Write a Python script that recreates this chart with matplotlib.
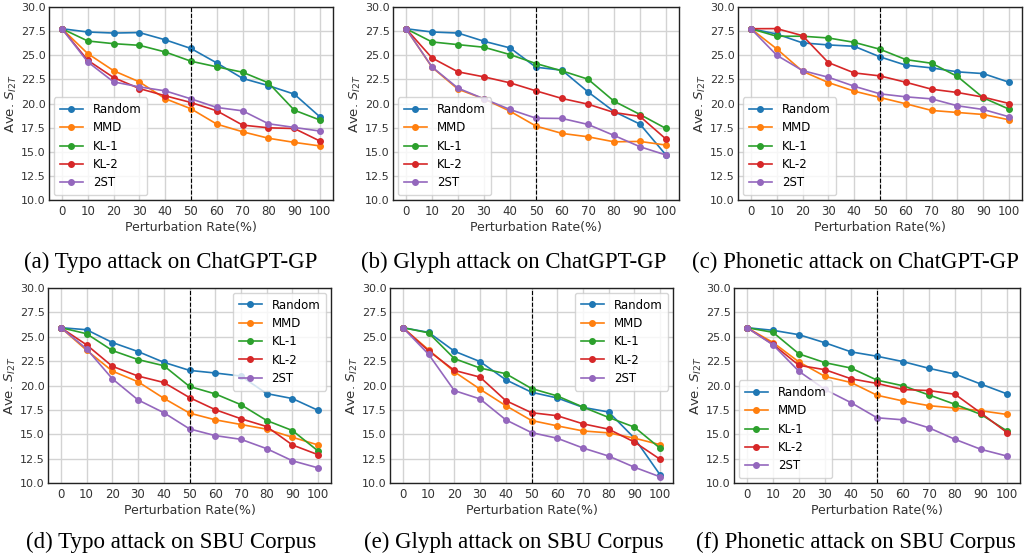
import numpy as np
import matplotlib
matplotlib.use("Agg")
import matplotlib.pyplot as plt

rates = [0, 10, 20, 30, 40, 50, 60, 70, 80, 90, 100]
methods = ["Random", "MMD", "KL-1", "KL-2", "2ST"]
colors = ["#1f77b4", "#ff7f0e", "#2ca02c", "#d62728", "#9467bd"]

# (a) Typo attack on ChatGPT-GP
typo_gp = {
    "Random": [27.75, 27.41, 27.3, 27.35, 26.6, 25.7, 24.2, 22.6, 21.85, 20.97, 18.6],
    "MMD":    [27.75, 25.17, 23.4, 22.24, 20.5, 19.45, 17.86, 17.07, 16.4, 15.97, 15.6],
    "KL-1":   [27.75, 26.48, 26.2, 26.03, 25.34, 24.38, 23.8, 23.24, 22.14, 19.31, 18.28],
    "KL-2":   [27.75, 24.48, 22.69, 21.55, 20.8, 20.1, 19.24, 17.76, 17.48, 17.41, 16.1],
    "2ST":    [27.75, 24.31, 22.24, 21.72, 21.31, 20.48, 19.59, 19.24, 17.9, 17.52, 17.14],
}
# (b) Glyph attack on ChatGPT-GP
glyph_gp = {
    "Random": [27.75, 27.41, 27.3, 26.45, 25.76, 23.76, 23.45, 21.2, 19.17, 17.86, 14.66],
    "MMD":    [27.75, 23.76, 21.48, 20.48, 19.2, 17.66, 16.9, 16.55, 16.03, 16.07, 15.69],
    "KL-1":   [27.75, 26.38, 26.1, 25.83, 25.07, 24.14, 23.38, 22.52, 20.24, 18.86, 17.41],
    "KL-2":   [27.75, 24.72, 23.28, 22.76, 22.14, 21.31, 20.52, 19.93, 19.07, 18.66, 16.31],
    "2ST":    [27.75, 23.79, 21.59, 20.48, 19.38, 18.48, 18.45, 17.83, 16.69, 15.52, 14.66],
}
# (c) Phonetic attack on ChatGPT-GP
phon_gp = {
    "Random": [27.75, 27.2, 26.28, 26.07, 25.93, 24.83, 23.97, 23.69, 23.28, 23.1, 22.2],
    "MMD":    [27.75, 25.66, 23.34, 22.17, 21.28, 20.62, 19.97, 19.28, 19.07, 18.86, 18.31],
    "KL-1":   [27.75, 26.97, 26.97, 26.79, 26.34, 25.62, 24.55, 24.17, 22.8, 20.59, 19.41],
    "KL-2":   [27.75, 27.76, 27.03, 24.24, 23.17, 22.86, 22.2, 21.48, 21.14, 20.66, 20.0],
    "2ST":    [27.75, 25.0, 23.41, 22.72, 21.79, 21.0, 20.69, 20.48, 19.76, 19.38, 18.62],
}
# (d) Typo attack on SBU Corpus
typo_sbu = {
    "Random": [25.93, 25.72, 24.41, 23.48, 22.38, 21.55, 21.28, 20.97, 19.17, 18.66, 17.45],
    "MMD":    [25.93, 23.62, 21.48, 20.38, 18.69, 17.17, 16.48, 16.0, 15.52, 14.69, 13.9],
    "KL-1":   [25.93, 25.31, 23.59, 22.66, 22.03, 19.9, 19.14, 18.03, 16.41, 15.38, 13.28],
    "KL-2":   [25.93, 24.17, 21.97, 20.97, 20.31, 18.76, 17.52, 16.59, 15.79, 13.9, 12.9],
    "2ST":    [25.93, 23.76, 20.69, 18.52, 17.21, 15.55, 14.86, 14.48, 13.52, 12.28, 11.55],
}
# (e) Glyph attack on SBU Corpus
glyph_sbu = {
    "Random": [25.93, 25.45, 23.52, 22.45, 20.59, 19.31, 18.72, 17.76, 17.28, 14.6, 10.83],
    "MMD":    [25.93, 23.66, 21.41, 19.62, 17.93, 16.41, 15.86, 15.34, 15.14, 14.6, 13.93],
    "KL-1":   [25.93, 25.4, 22.76, 21.79, 21.21, 19.69, 18.93, 17.79, 16.72, 15.73, 13.56],
    "KL-2":   [25.93, 23.55, 21.55, 20.86, 18.45, 17.21, 16.9, 16.07, 15.52, 14.2, 12.43],
    "2ST":    [25.93, 23.2, 19.48, 18.62, 16.48, 15.17, 14.59, 13.59, 12.76, 11.62, 10.63],
}
# (f) Phonetic attack on SBU Corpus
phon_sbu = {
    "Random": [25.93, 25.66, 25.21, 24.38, 23.45, 23.0, 22.45, 21.76, 21.17, 20.14, 19.14],
    "MMD":    [25.93, 24.41, 22.41, 20.93, 20.31, 19.0, 18.41, 17.93, 17.69, 17.41, 17.03],
    "KL-1":   [25.93, 25.45, 23.24, 22.34, 21.79, 20.55, 19.97, 19.03, 18.07, 17.03, 15.34],
    "KL-2":   [25.93, 24.21, 22.07, 21.62, 20.69, 20.21, 19.59, 19.48, 19.1, 17.17, 15.17],
    "2ST":    [25.93, 24.17, 21.45, 19.59, 18.24, 16.69, 16.48, 15.66, 14.48, 13.45, 12.76],
}

panels = [typo_gp, glyph_gp, phon_gp, typo_sbu, glyph_sbu, phon_sbu]
captions = ["(a) Typo attack on ChatGPT-GP", "(b) Glyph attack on ChatGPT-GP",
            "(c) Phonetic attack on ChatGPT-GP", "(d) Typo attack on SBU Corpus",
            "(e) Glyph attack on SBU Corpus", "(f) Phonetic attack on SBU Corpus"]
legend_locs = ["lower left", "lower left", "lower left", "upper right", "upper right", "lower left"]

W, H = 1027, 559
# axes boxes in pixels: left, top, right, bottom
boxes = [(49, 7, 333, 200), (393, 7, 679, 200), (738, 7, 1022, 200),
         (48, 288, 331, 483), (390, 288, 673, 483), (734, 288, 1020, 483)]

fig = plt.figure(figsize=(W / 100, H / 100), dpi=100)

for i, (data, cap, loc, box) in enumerate(zip(panels, captions, legend_locs, boxes)):
    l, t, r, b = box
    ax = fig.add_axes([l / W, 1 - b / H, (r - l) / W, (b - t) / H])
    for m, c in zip(methods, colors):
        ax.plot(rates, data[m], color=c, marker="o", markersize=4, lw=1.2, label=m)
    ax.axvline(50, color="black", ls="--", lw=0.8)
    ax.set_ylim(10, 30)
    ax.set_xlim(-5, 105)
    ax.set_xticks(rates)
    ax.set_yticks(np.arange(10, 30.1, 2.5))
    ax.grid(True, color="#d3d3d3", lw=1.0)
    ax.set_axisbelow(True)
    for s in ax.spines.values():
        s.set_color("#222222")
        s.set_linewidth(1.0)
    ax.tick_params(axis="y", length=0, labelsize=8, colors="#333333", pad=2.5)
    ax.tick_params(axis="x", length=0, labelsize=8.5, colors="#333333", pad=3.5)
    ax.set_xlabel("Perturbation Rate(%)", fontsize=9, color="#333333", labelpad=2)
    ax.set_ylabel("Ave. $S_{I2T}$", fontsize=9.5, color="#333333", labelpad=1)
    ax.legend(loc=loc, fontsize=8.5, borderaxespad=0.4, handlelength=2.0,
              labelspacing=0.45, borderpad=0.5)
    col = i % 3
    cy = 262 if i < 3 else 542
    fig.text((col + 0.5) / 3, 1 - cy / H, cap, ha="center", va="center",
             family="Liberation Serif", fontsize=16.5)

fig.savefig("out.png", dpi=100)
